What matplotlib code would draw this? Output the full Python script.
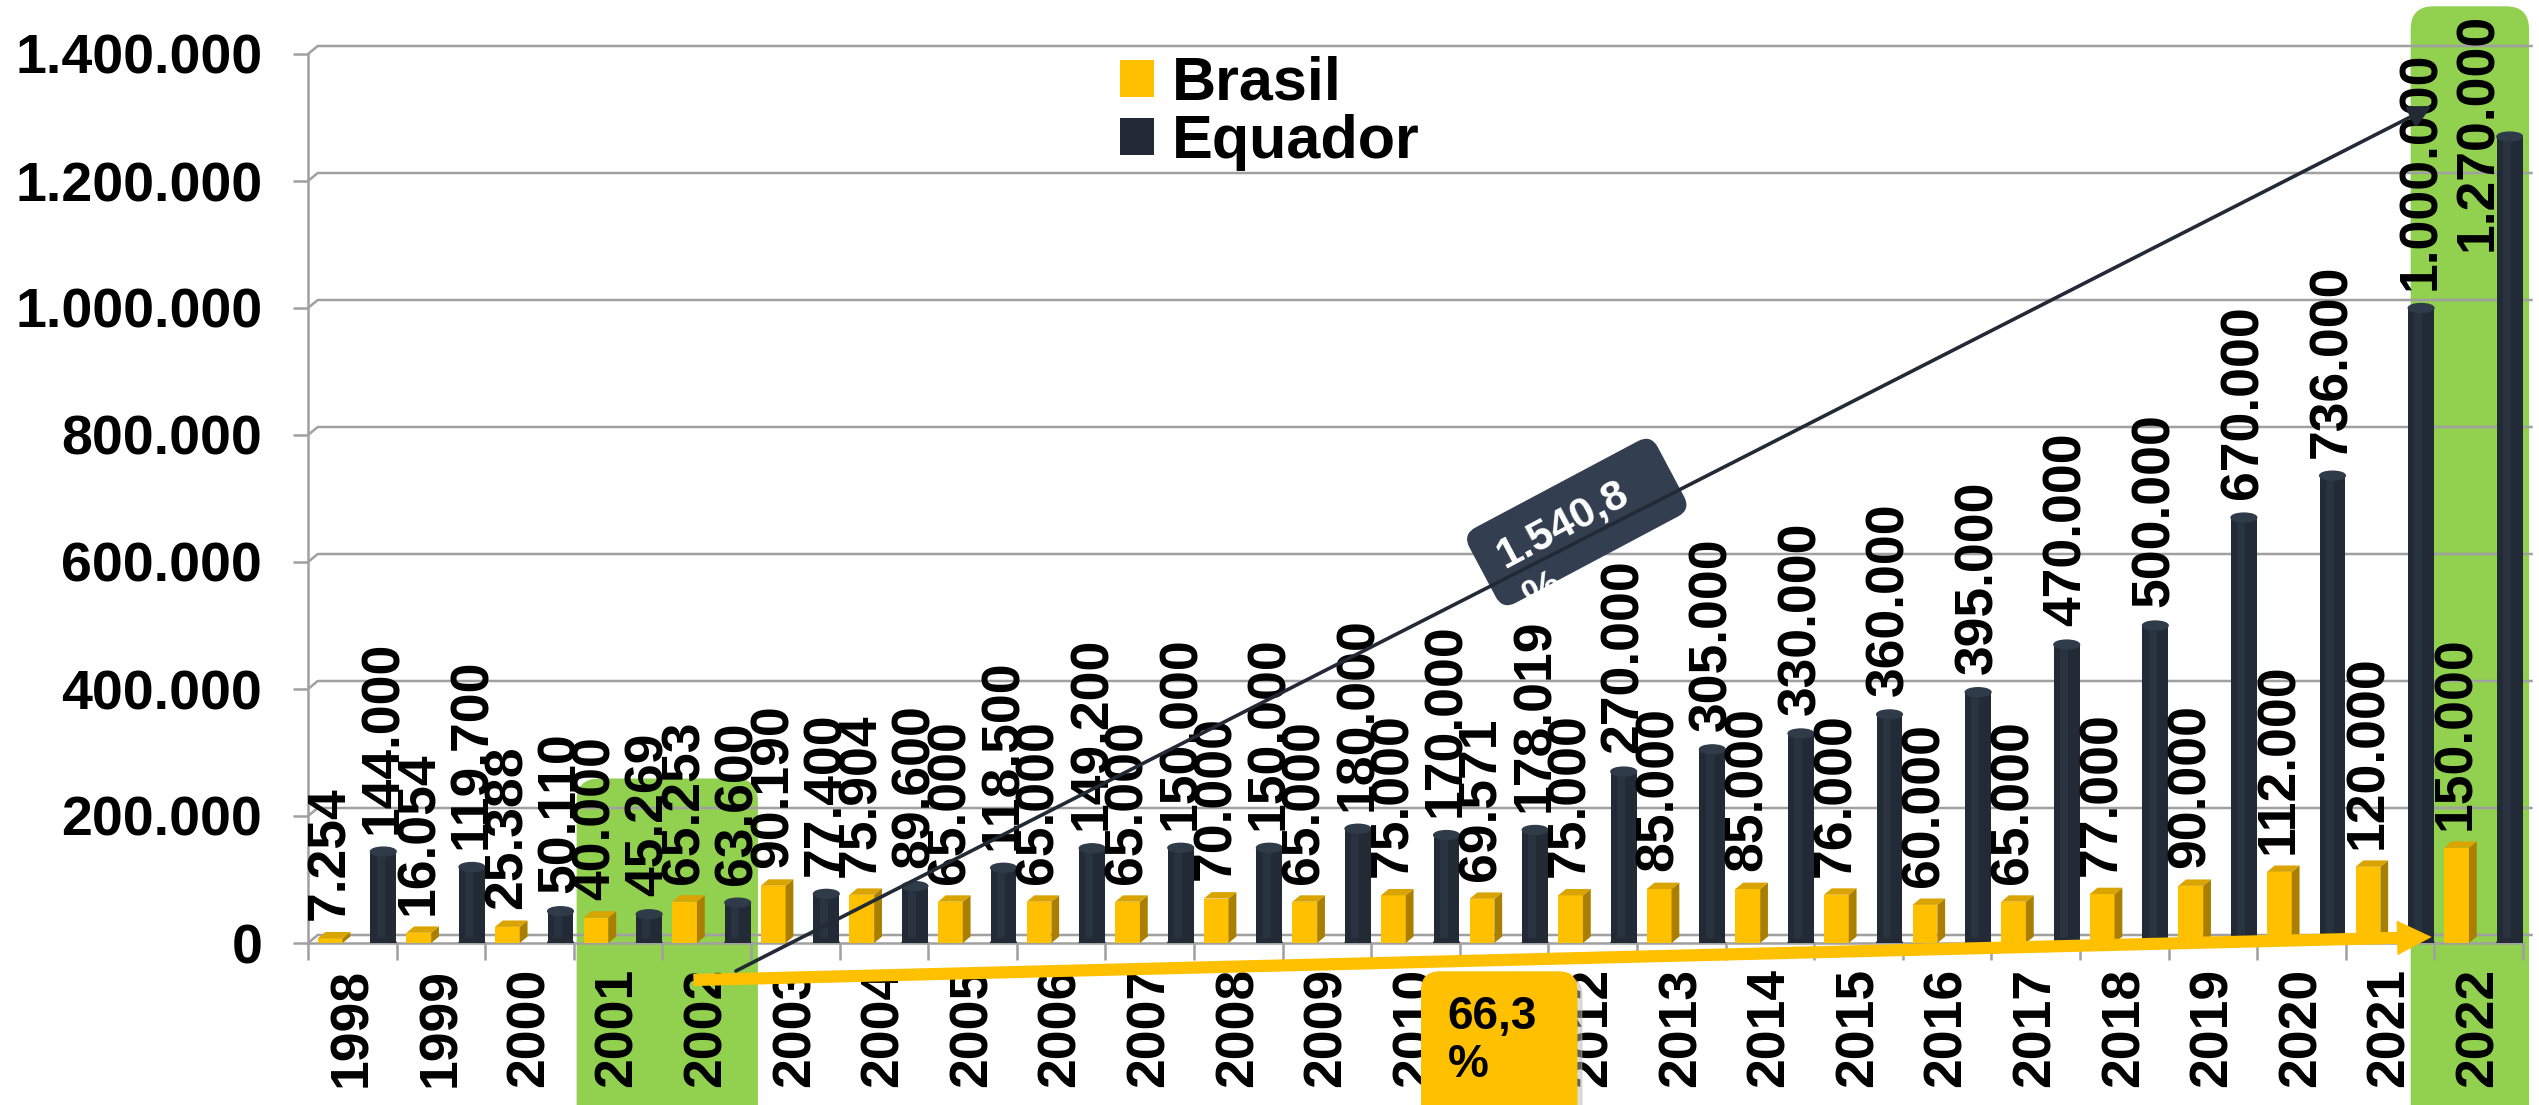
import numpy as np
import matplotlib.pyplot as plt
from matplotlib.patches import Polygon, Ellipse, Patch, FancyBboxPatch, FancyArrowPatch
from matplotlib.transforms import Affine2D

plt.rcParams['font.family'] = ['Liberation Sans', 'DejaVu Sans']
plt.rcParams['font.weight'] = 'bold'

# dados
years = [str(y) for y in range(1998, 2023)]
brasil = [7254, 16054, 25388, 40000, 65253, 90190, 75904, 65000, 65000, 65000,
          70000, 65000, 75000, 69571, 75000, 85000, 85000, 76000, 60000, 65000,
          77000, 90000, 112000, 120000, 150000]
equador = [144000, 119700, 50110, 45269, 63600, 77400, 89600, 118500, 149200, 150000,
           150000, 180000, 170000, 178019, 270000, 305000, 330000, 360000, 395000, 470000,
           500000, 670000, 736000, 1000000, 1270000]
yticks = [0, 200000, 400000, 600000, 800000, 1000000, 1200000, 1400000]
series_names = ['Brasil', 'Equador']
growth_equador = ['1.540,8', '%']
growth_brasil = ['66,3', '%']
highlight_a = ['2001', '2002']
highlight_b = ['2022']

YEL = '#FFC000'
YEL_SIDE = '#AA7F00'
YEL_TOP = '#D9A400'
NAVY = '#222A35'
NAVY_TOP = '#303B4A'
GRID = '#A0A0A0'
GREEN = '#92D050'
BOXNAVY = '#333F50'


def fmt(v):
    return f"{v:,}".replace(',', '.')


fig = plt.figure(figsize=(25.39, 11.05), dpi=100)
fig.patch.set_facecolor('white')
ax = fig.add_axes([308 / 2539, 1 - 943 / 1105, 2215 / 2539, 889 / 1105])
ax.set_xlim(-0.5, 24.5)
ax.set_ylim(0, 1400000)
ax.patch.set_visible(False)

n = len(years)
idx = np.arange(n)
xb = idx - 0.25
xe = idx + 0.35
bw = 0.28
ew = 0.29
ddx = 0.11          # profundidade 3D
ddy = 12600

# parede de fundo / grade
for v in yticks:
    ax.plot([-0.5, -0.5 + ddx, 24.5 + ddx], [v, v + ddy, v + ddy], color=GRID, lw=1.8,
            zorder=1, clip_on=False, solid_capstyle='butt')

for s in ['top', 'right']:
    ax.spines[s].set_visible(False)
ax.spines['left'].set_color(GRID)
ax.spines['left'].set_linewidth(1.8)
ax.spines['bottom'].set_color(GRID)
ax.spines['bottom'].set_linewidth(1.8)

# Brasil: colunas 3D
ax.bar(xb, brasil, width=bw, color=YEL, zorder=3)
for x, v in zip(xb, brasil):
    l, r = x - bw / 2, x + bw / 2
    ax.add_patch(Polygon([(r, 0), (r + ddx * 0.8, ddy * 0.8), (r + ddx * 0.8, v + ddy * 0.8), (r, v)],
                         closed=True, color=YEL_SIDE, zorder=3, lw=0))
    ax.add_patch(Polygon([(l, v), (r, v), (r + ddx * 0.8, v + ddy * 0.8), (l + ddx * 0.8, v + ddy * 0.8)],
                         closed=True, color=YEL_TOP, zorder=3, lw=0))

# Equador: cilindros
ax.bar(xe, equador, width=ew, color=NAVY, zorder=3)
ax.bar(xe - 0.03, equador, width=0.09, color='#29323F', zorder=3)
for x, v in zip(xe, equador):
    ax.add_patch(Ellipse((x, 0), ew, 14000, color=NAVY, zorder=3))
    ax.add_patch(Ellipse((x, v), ew, 14000, color=NAVY_TOP, zorder=3))

# rótulos de dados
LBL = 38.5
for x, v in zip(xb, brasil):
    ax.annotate(fmt(v), (x, v), xytext=(0, 13), textcoords='offset points', rotation=90,
                ha='center', va='bottom', fontsize=LBL, fontweight='bold', zorder=4,
                annotation_clip=False)
for i, (x, v) in enumerate(zip(xe, equador)):
    if i == n - 1:
        # o maior rótulo não cabe acima da barra: fica encostado no topo
        ax.annotate(fmt(v), (x, 1400000), xytext=(-23, 30), textcoords='offset points',
                    rotation=90, ha='center', va='top', fontsize=LBL, fontweight='bold',
                    zorder=4, annotation_clip=False)
    else:
        ax.annotate(fmt(v), (x, v), xytext=(0, 13), textcoords='offset points', rotation=90,
                    ha='center', va='bottom', fontsize=LBL, fontweight='bold', zorder=4,
                    annotation_clip=False)

# eixos
ax.set_yticks(yticks)
ax.set_yticklabels([fmt(v) for v in yticks])
ax.tick_params(axis='y', length=11, width=1.8, color=GRID, pad=22, labelsize=40)
ax.set_xticks(idx)
ax.set_xticklabels(years, rotation=90, fontsize=38.5, fontweight='bold')
ax.set_xticks(np.arange(-0.5, n, 1.0), minor=True)
ax.tick_params(axis='x', which='major', length=0, pad=18)
ax.tick_params(axis='x', which='minor', length=12, width=1.8, color=GRID)

# legenda
handles = [Patch(facecolor=YEL), Patch(facecolor=NAVY)]
fig.legend(handles, series_names, loc='upper left', bbox_to_anchor=(1120 / 2539, 1 - 56 / 1105),
           frameon=False, prop={'size': 44, 'weight': 'bold'}, handlelength=0.55,
           handleheight=0.55, handletextpad=0.3, labelspacing=0.02, borderpad=0,
           borderaxespad=0)


def inch(x, y):
    p = ax.transData.transform((x, y))
    return p / fig.dpi


# destaques verdes (atrás do gráfico)
ia, ib = years.index(highlight_a[0]), years.index(highlight_a[-1])
x0, _ = inch(ia - 0.46, 0)
x1, ytop = inch(ib + 0.57, 258000)
fig.add_artist(FancyBboxPatch((x0, -0.3), x1 - x0, ytop + 0.3,
                              boxstyle='round,pad=0,rounding_size=0.22',
                              transform=fig.dpi_scale_trans, color=GREEN, zorder=-1))
ic = years.index(highlight_b[0])
x0, _ = inch(ic - 0.76, 0)
x1, ytop = inch(ic + 0.56, 1474000)
fig.add_artist(FancyBboxPatch((x0, -0.3), x1 - x0, ytop + 0.3,
                              boxstyle='round,pad=0,rounding_size=0.22',
                              transform=fig.dpi_scale_trans, color=GREEN, zorder=-1))

# setas
ax.add_patch(FancyArrowPatch((3.85, -58300), (23.47, 9450),
                             arrowstyle='simple,head_length=1.0,head_width=1.0,tail_width=0.35',
                             mutation_scale=25, color=YEL, lw=0, zorder=6, clip_on=False,
                             shrinkA=0, shrinkB=0))
ax.add_patch(FancyArrowPatch((4.33, -44100), (23.47, 1318000),
                             arrowstyle='-|>,head_length=0.6,head_width=0.3',
                             mutation_scale=22, color=NAVY, lw=2.6, zorder=6, clip_on=False,
                             shrinkA=0, shrinkB=0))

# caixa 1.540,8 %
cx, cy = inch(13.82, 663000)
ang = 28
rot = Affine2D().rotate_deg(ang).translate(cx, cy) + fig.dpi_scale_trans
box = FancyBboxPatch((-1.06, -0.42), 2.12, 0.84, boxstyle='round,pad=0,rounding_size=0.14',
                     transform=rot, color=BOXNAVY, zorder=5, clip_on=False)
ax.add_patch(box)
t1 = ax.text(-0.14, 0.04, growth_equador[0], transform=rot, rotation=ang, rotation_mode='anchor',
             ha='center', va='center', color='white', fontsize=31, fontweight='bold', zorder=7)
t2 = ax.text(-0.62, -0.46, growth_equador[1], transform=rot, rotation=ang, rotation_mode='anchor',
             ha='center', va='center', color='white', fontsize=31, fontweight='bold', zorder=7)
t2.set_clip_path(box)

# caixa 66,3 %
bx0, by0 = inch(12.07, -45700)
bx1, _ = inch(13.82, 0)
ax.add_patch(FancyBboxPatch((bx0 + 0.05, -0.5), bx1 - bx0, by0 + 0.45,
                            boxstyle='round,pad=0,rounding_size=0.18',
                            transform=fig.dpi_scale_trans, color='#BBBBBB', alpha=0.5,
                            zorder=4.9, clip_on=False))
ax.add_patch(FancyBboxPatch((bx0, -0.5), bx1 - bx0, by0 + 0.5,
                            boxstyle='round,pad=0,rounding_size=0.18',
                            transform=fig.dpi_scale_trans, color=YEL, zorder=5, clip_on=False))
ax.text(bx0 + 0.26, by0 - 0.45, growth_brasil[0], transform=fig.dpi_scale_trans, ha='left',
        va='center', fontsize=33, fontweight='bold', zorder=7,
        family=['Liberation Sans Narrow', 'Liberation Sans'])
ax.text(bx0 + 0.26, by0 - 0.93, growth_brasil[1], transform=fig.dpi_scale_trans, ha='left',
        va='center', fontsize=33, fontweight='bold', zorder=7,
        family=['Liberation Sans Narrow', 'Liberation Sans'])

fig.savefig('out.png', dpi=100)
